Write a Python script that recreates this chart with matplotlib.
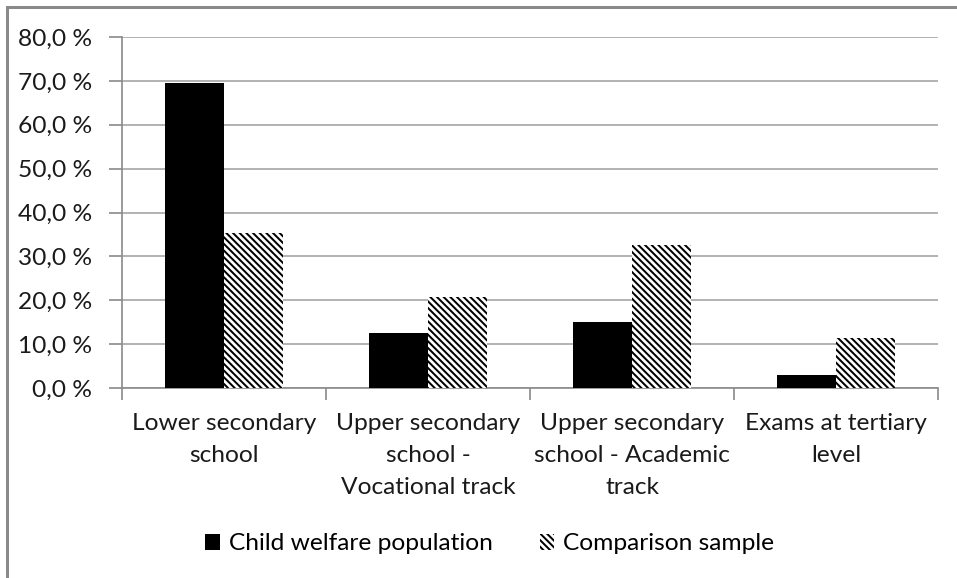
import matplotlib
matplotlib.use('Agg')
import matplotlib.pyplot as plt
from matplotlib.patches import Rectangle, Patch
import numpy as np

# ── data ──
categories = ['Lower secondary\nschool',
              'Upper secondary\nschool -\nVocational track',
              'Upper secondary\nschool - Academic\ntrack',
              'Exams at tertiary\nlevel']
child_welfare = [69.5, 12.5, 15.0, 3.0]
comparison = [35.4, 20.8, 32.6, 11.4]
series_names = ['Child welfare population', 'Comparison sample']
y_ticks = [0, 10, 20, 30, 40, 50, 60, 70, 80]

DPI = 120
W, H = 957, 578
FS = 14.7
HATCH = '\\' * 6
plt.rcParams['font.family'] = ['Lato', 'DejaVu Sans']
plt.rcParams['hatch.linewidth'] = 1.2
plt.rcParams['hatch.color'] = 'black'

fig = plt.figure(figsize=(W / DPI, H / DPI), dpi=DPI, facecolor='white')
ax = fig.add_axes([122 / W, 1 - 388 / H, (938 - 122) / W, (388 - 37) / H])

# outer chart border (only top and left edges fall inside the image)
fig.patches.append(Rectangle((7 / W, -0.1), 1.2, 1 - 7 / H + 0.1,
                             transform=fig.transFigure, fill=False,
                             edgecolor='#8a8a8a', lw=1.8))

x = np.arange(len(categories))
bw = 0.287
ax.bar(x - bw / 2, child_welfare, bw, color='black', edgecolor='none',
       zorder=3, label=series_names[0])
ax.bar(x + bw / 2, comparison, bw, color='white', edgecolor='black', lw=0,
       hatch=HATCH, zorder=3, label=series_names[1])

ax.set_xlim(-0.5, len(categories) - 0.5)
ax.set_ylim(0, 80)
ax.set_yticks(y_ticks)
ax.set_yticklabels([f'{v:.1f} %'.replace('.', ',') for v in y_ticks])
ax.yaxis.grid(True, color='#a6a6a6', lw=1.0, zorder=0)

ax.set_xticks(x)
ax.set_xticklabels(categories)
for lbl in ax.get_xticklabels():
    lbl.set_linespacing(1.65)
ax.set_xticks(np.arange(len(categories) + 1) - 0.5, minor=True)
ax.tick_params(axis='x', which='major', length=0, pad=15)
ax.tick_params(axis='x', which='minor', length=7, color='#8a8a8a', width=1)
ax.tick_params(axis='y', length=8, color='#8a8a8a', width=1, pad=10)
ax.tick_params(labelsize=FS, labelcolor='#1a1a1a')

for side in ['top', 'right']:
    ax.spines[side].set_visible(False)
for side in ['left', 'bottom']:
    ax.spines[side].set_color('#8a8a8a')
    ax.spines[side].set_linewidth(1.0)

handles = [Patch(facecolor='black', edgecolor='none'),
           Patch(facecolor='white', edgecolor='black', lw=0, hatch=HATCH)]
fig.legend(handles, series_names, loc='center', bbox_to_anchor=(490 / W, 1 - 544 / H),
           ncol=2, frameon=False, fontsize=FS, handlelength=0.6, handleheight=0.6,
           handletextpad=0.37, columnspacing=1.9)

fig.savefig('out.png', dpi=DPI, facecolor='white')
